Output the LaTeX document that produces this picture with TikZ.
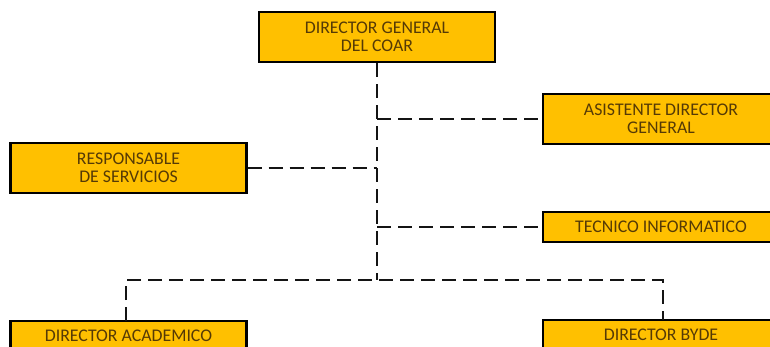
\documentclass[tikz,border=0pt]{standalone}
\usepackage{fontspec}
\setmainfont{Carlito}
\definecolor{boxfill}{RGB}{255,192,0}
\definecolor{boxtext}{RGB}{85,58,6}
\definecolor{linecol}{RGB}{20,20,20}
\begin{document}
\begin{tikzpicture}[x=1pt,y=-1pt,
  orgbox/.style={draw=black, line width=2.4pt, fill=boxfill, text=boxtext,
    minimum width=236pt, align=center, inner sep=0pt,
    font=\fontsize{17.8}{18.5}\selectfont},
  tall/.style={minimum height=50pt},
  short/.style={minimum height=30pt},
  conn/.style={draw=linecol, line width=2.2pt, dash pattern=on 14pt off 7pt}]
\useasboundingbox (0,0) rectangle (770,347);
\clip (0,0) rectangle (770,347);
\fill[white] (0,0) rectangle (770,347);

\node[orgbox,tall] (dg) at (377,37) {DIRECTOR GENERAL\\DEL COAR};
\node[orgbox,tall] (asis) at (661,119) {ASISTENTE DIRECTOR\\GENERAL};
\node[orgbox,tall] (resp) at (128.5,168) {RESPONSABLE\\DE SERVICIOS};
\node[orgbox,short] (tec) at (661,227) {TECNICO INFORMATICO};
\node[orgbox,short] (acad) at (128.5,336) {DIRECTOR ACADEMICO};
\node[orgbox,short] (byde) at (661,335) {DIRECTOR BYDE};

\coordinate (tA) at (377,119);
\coordinate (tR) at (377,168);
\coordinate (tT) at (377,227);
\coordinate (tB) at (377,280);
\coordinate (bl) at (126,280);
\coordinate (br) at (663,280);
\coordinate (al) at (126,321);
\coordinate (ar) at (663,320);

\path[conn] (dg.south) -- (tB);
\path[conn] (tA) -- (asis.west);
\path[conn] (resp.east) -- (tR);
\path[conn] (tT) -- (tec.west);
\path[conn] (al) -- (bl) -- (br) -- (ar);
\end{tikzpicture}
\end{document}
